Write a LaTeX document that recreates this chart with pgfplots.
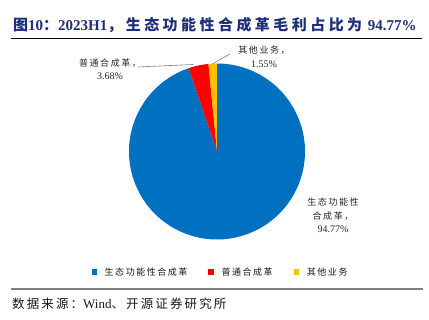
\documentclass[border=0pt]{standalone}
\usepackage{fontspec}
\setmainfont{Liberation Serif}
\newfontfamily\cjk[LetterSpace=17]{Noto Sans CJK SC}
\newfontfamily\cjkt[LetterSpace=23]{Noto Sans CJK SC}
\usepackage{pgfplots}
\pgfplotsset{compat=1.18}
\usepgfplotslibrary{polar}
\definecolor{cblue}{HTML}{0070C0}
\definecolor{cred}{HTML}{FF0000}
\definecolor{cyellow}{HTML}{FFC000}
\definecolor{ctitle}{HTML}{1F2E7A}
\definecolor{crule}{HTML}{808080}
\definecolor{cline}{HTML}{808080}
\begin{document}
\begin{tikzpicture}[x=1pt,y=1pt]
\path[use as bounding box] (0,0) rectangle (429,320);
% title
\node[anchor=west, text=ctitle, font=\bfseries\fontsize{15}{17}\selectfont, inner sep=0pt] at (13,295)
  {{\cjkt 图}10{\cjkt ：}2023H1{\cjkt ，生态功能性合成革毛利占比为}\hspace{2pt} 94.77\%};
\draw[black, line width=0.8pt] (11,282) -- (422,282);
% source
\draw[crule, line width=1.5pt] (11,31) -- (423,31);
\node[anchor=west, inner sep=0pt, font=\fontsize{13}{15}\selectfont, text=black!90] at (12,16)
  {{\fontsize{12.5}{15}\selectfont\cjk 数据来源：}Wind{\fontsize{12.5}{15}\selectfont\cjk 、开源证券研究所}};
% pie: shares 94.77, 3.68, 1.55 (percent) -> slice boundary angles from 90 deg
\begin{polaraxis}[
  at={(217pt,168.5pt)}, anchor=center,
  width=176pt, height=176pt, scale only axis,
  hide axis, ymin=0, ymax=1, xmin=0, xmax=360,
  clip=false,
  legend columns=3,
  legend style={draw=none, fill=none, at={(0.52,-0.185)}, anchor=center,
    font=\fontsize{9}{11}\selectfont\cjk, text=black!90,
    /tikz/every odd column/.append style={column sep=6pt},
    /tikz/every even column/.append style={column sep=19pt}},
  legend image code/.code={\fill[#1] (0pt,-2.6pt) rectangle (5.2pt,2.6pt);},
]
% 生态功能性合成革 94.77%: from 108.83 to 450
\addplot[fill=cblue, draw=none] coordinates {(108.83,0) (108.83,1)} arc[start angle=108.83, end angle=450, radius=88pt] -- cycle;
\addlegendentry{生态功能性合成革}
% 普通合成革 3.68%: from 95.58 to 108.83
\addplot[fill=cred, draw=none] coordinates {(95.58,0) (95.58,1)} arc[start angle=95.58, end angle=108.83, radius=88pt] -- cycle;
\addlegendentry{普通合成革}
% 其他业务 1.55%: from 90 to 95.58
\addplot[fill=cyellow, draw=none] coordinates {(90,0) (90,1)} arc[start angle=90, end angle=95.58, radius=88pt] -- cycle;
\addlegendentry{其他业务}
\end{polaraxis}
% data labels
\draw[cline, line width=0.6pt] (138,253) -- (193,255.5);
\draw[cline, line width=0.6pt] (230,266) -- (212.5,256);
\node[align=center, inner sep=0pt, text=black!85, font=\fontsize{10}{13}\selectfont] at (110,250.3)
  {{\fontsize{9}{13}\selectfont\cjk 普通合成革，}\\3.68\%};
\node[align=center, inner sep=0pt, text=black!85, font=\fontsize{10}{14}\selectfont] at (264,263)
  {{\fontsize{9}{14}\selectfont\cjk 其他业务，}\\1.55\%};
\node[align=center, inner sep=0pt, text=black!85, font=\fontsize{10}{13.5}\selectfont] at (333,104.5)
  {{\fontsize{9}{13.5}\selectfont\cjk 生态功能性}\\{\fontsize{9}{13.5}\selectfont\cjk 合成革，}\\94.77\%};
\end{tikzpicture}
\end{document}
